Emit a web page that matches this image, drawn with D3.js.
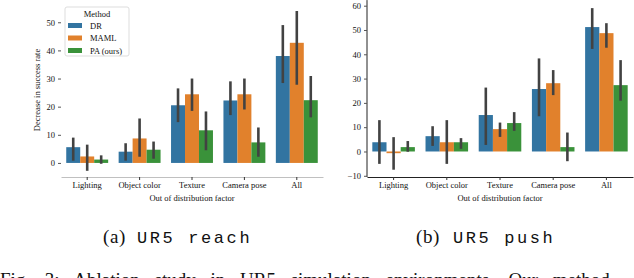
<!DOCTYPE html>
<html>
<head>
<meta charset="utf-8">
<script src="https://cdn.jsdelivr.net/npm/d3@7"></script>
<style>
  body { margin: 0; background: #fff; }
  svg { display: block; }
  text { font-family: "Liberation Serif", "DejaVu Serif", serif; fill: #111; }
</style>
</head>
<body>
<svg width="634" height="278"></svg>
<script>
const factors = ["Lighting", "Object color", "Texture", "Camera pose", "All"];
const methods = ["DR", "MAML", "PA (ours)"];
const colors = ["#3274a1", "#e1812c", "#3a923a"];

// reach: mean, low, high per method
const reachDR   = [[5.6, 0.8, 9.0], [4.0, 0.8, 7.0], [20.5, 14.5, 26.5], [22.2, 17.0, 29.0], [38.0, 28.4, 49.0]];
const reachMAML = [[2.3, -2.8, 6.5], [8.7, 2.2, 15.8], [24.4, 18.5, 30.0], [24.4, 19.0, 30.0], [42.7, 27.8, 54.0]];
const reachPA   = [[1.2, -0.3, 2.7], [4.7, 1.5, 7.6], [11.6, 4.5, 18.3], [7.3, 2.2, 12.6], [22.3, 16.2, 30.9]];

// push
const pushDR   = [[3.8, -5.1, 12.9], [6.3, 2.3, 10.4], [15.0, 2.7, 26.3], [25.7, 14.5, 38.3], [51.2, 42.2, 59.0]];
const pushMAML = [[-0.7, -7.5, 5.9], [3.8, -5.1, 12.9], [9.2, 6.0, 11.9], [28.1, 23.2, 33.5], [48.7, 42.7, 52.8]];
const pushPA   = [[1.8, -0.1, 4.3], [3.8, 1.1, 5.5], [11.7, 8.5, 16.2], [1.8, -4.0, 7.8], [27.3, 20.9, 37.6]];

const reachTicks = [0, 10, 20, 30, 40, 50];
const pushTicks = [-10, 0, 10, 20, 30, 40, 50, 60];

const svg = d3.select("svg");

function panel(opts) {
  const x = d3.scaleBand().domain(factors).range(opts.xr);
  const xm = d3.scaleBand().domain(methods).range([0, x.bandwidth() * 0.8]);
  const y = d3.scaleLinear().domain(opts.yd).range(opts.yr);
  const g = svg.append("g");
  const cx = (i, mi) => x(factors[i]) + x.bandwidth() * 0.1 + xm(methods[mi]);

  // bars
  opts.series.forEach((ser, mi) => {
    g.selectAll(null)
      .data(ser)
      .enter()
      .append("rect")
      .attr("x", (d, i) => cx(i, mi))
      .attr("width", xm.bandwidth())
      .attr("y", d => y(Math.max(0, d[0])))
      .attr("height", d => Math.abs(y(d[0]) - y(0)))
      .style("fill", colors[mi]);
  });
  // error bars
  opts.series.forEach((ser, mi) => {
    g.selectAll(null)
      .data(ser)
      .enter()
      .append("line")
      .attr("x1", (d, i) => cx(i, mi) + xm.bandwidth() / 2)
      .attr("x2", (d, i) => cx(i, mi) + xm.bandwidth() / 2)
      .attr("y1", d => y(d[1]))
      .attr("y2", d => y(d[2]))
      .style("stroke", "#424242")
      .style("stroke-width", 2.6);
  });

  // axes
  const xAxis = g.append("g")
    .attr("transform", `translate(0,${opts.yr[0]})`)
    .call(d3.axisBottom(x).tickSize(3).tickSizeOuter(0));
  xAxis.select(".domain").style("stroke", opts.spine).style("stroke-width", 1);
  xAxis.selectAll(".tick line").style("stroke", "#333");
  xAxis.selectAll("text").style("font-size", "8.5px").attr("y", 5).attr("dy", "0.71em");

  const yAxis = g.append("g")
    .attr("transform", `translate(${opts.xr[0]},0)`)
    .call(d3.axisLeft(y).tickValues(opts.ticks).tickSize(3).tickFormat(d => d < 0 ? "\u2212" + (-d) : d));
  if (opts.leftSpine) {
    yAxis.select(".domain").attr("d", `M0,${opts.yr[0]}V${opts.yr[1]}`).style("stroke", opts.spine);
  } else {
    yAxis.select(".domain").remove();
  }
  yAxis.selectAll(".tick line").style("stroke", "#555");
  yAxis.selectAll("text").style("font-size", "8.5px").attr("x", -6);
  g.selectAll(".tick text").style("font-family", "'Liberation Serif', serif").style("fill", "#111");

  g.append("text")
    .attr("x", (opts.xr[0] + opts.xr[1]) / 2)
    .attr("y", 201)
    .attr("text-anchor", "middle")
    .style("font-size", "8.5px")
    .text("Out of distribution factor");

  return g;
}

const left = panel({
  xr: [61, 323], yd: [-5, 55], yr: [177, 8.2], ticks: reachTicks,
  series: [reachDR, reachMAML, reachPA], spine: "#c0c0c0", leftSpine: false
});
left.append("text")
  .attr("transform", "translate(40,90) rotate(-90)")
  .attr("text-anchor", "middle")
  .style("font-size", "8.5px")
  .text("Decrease in success rate");

// legend
const legend = svg.append("g").attr("transform", "translate(65,7)");
legend.append("rect")
  .attr("width", 64).attr("height", 49).attr("rx", 2)
  .style("fill", "#fff").style("stroke", "#ddd");
legend.append("text")
  .attr("x", 32).attr("y", 10)
  .attr("text-anchor", "middle")
  .style("font-size", "8.5px")
  .text("Method");
methods.forEach((m, i) => {
  legend.append("rect")
    .attr("x", 3).attr("y", 16 + i * 12.5)
    .attr("width", 14).attr("height", 5)
    .style("fill", colors[i]);
  legend.append("text")
    .attr("x", 25).attr("y", 21.5 + i * 12.5)
    .style("font-size", "8.5px")
    .text(m);
});

panel({
  xr: [367, 633], yd: [-10.5, 62.3], yr: [177, 0.1], ticks: pushTicks,
  series: [pushDR, pushMAML, pushPA], spine: "#222", leftSpine: true
});

// captions
function caption(x0, label, code, gap) {
  svg.append("text")
    .attr("x", x0).attr("y", 243)
    .style("font-size", "19px")
    .style("letter-spacing", "0.6px")
    .text(label);
  svg.append("text")
    .attr("x", x0 + gap).attr("y", 243)
    .style("font-family", "'Liberation Mono', 'DejaVu Sans Mono', monospace")
    .style("font-size", "17px")
    .style("font-weight", 300)
    .style("letter-spacing", "2.6px")
    .text(code);
}
caption(103, "(a)", "UR5 reach", 34);
caption(416, "(b)", "UR5 push", 37);

// first line of the figure caption, cut by the bottom edge
svg.append("text")
  .attr("x", 0).attr("y", 286)
  .style("font-size", "19px")
  .style("word-spacing", "10px")
  .text("Fig. 3:  Ablation study in UR5 simulation environments. Our method");
</script>
</body>
</html>
